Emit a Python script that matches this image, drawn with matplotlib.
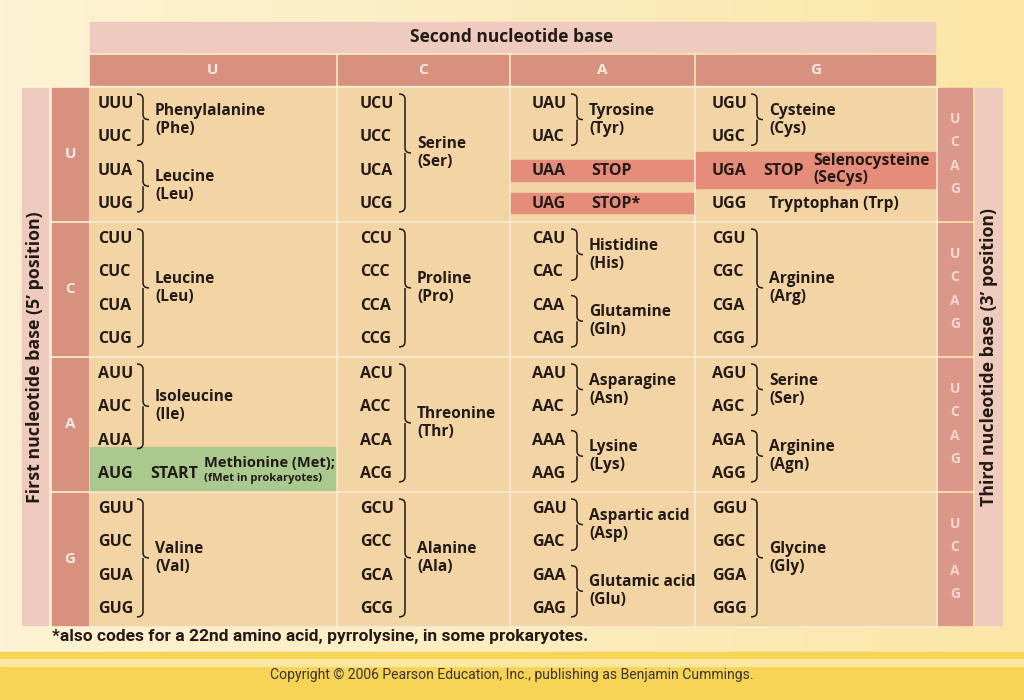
import matplotlib
matplotlib.use("Agg")
import matplotlib.pyplot as plt
import numpy as np
from matplotlib.patches import Rectangle, PathPatch
from matplotlib.path import Path

bases = ["U", "C", "A", "G"]

# codon groups that share an amino acid: (first codon, count, name, abbreviation)
amino_groups = [
    ("UUU", 2, "Phenylalanine", "(Phe)"),
    ("UUA", 2, "Leucine", "(Leu)"),
    ("UCU", 4, "Serine", "(Ser)"),
    ("UAU", 2, "Tyrosine", "(Tyr)"),
    ("UGU", 2, "Cysteine", "(Cys)"),
    ("CUU", 4, "Leucine", "(Leu)"),
    ("CCU", 4, "Proline", "(Pro)"),
    ("CAU", 2, "Histidine", "(His)"),
    ("CAA", 2, "Glutamine", "(Gln)"),
    ("CGU", 4, "Arginine", "(Arg)"),
    ("AUU", 3, "Isoleucine", "(Ile)"),
    ("ACU", 4, "Threonine", "(Thr)"),
    ("AAU", 2, "Asparagine", "(Asn)"),
    ("AAA", 2, "Lysine", "(Lys)"),
    ("AGU", 2, "Serine", "(Ser)"),
    ("AGA", 2, "Arginine", "(Agn)"),
    ("GUU", 4, "Valine", "(Val)"),
    ("GCU", 4, "Alanine", "(Ala)"),
    ("GAU", 2, "Aspartic acid", "(Asp)"),
    ("GAA", 2, "Glutamic acid", "(Glu)"),
    ("GGU", 4, "Glycine", "(Gly)"),
]

stop_codons = ["UAA", "UAG", "UGA"]
stop_labels = ["STOP", "STOP*", "STOP"]
secys_label = ["Selenocysteine", "(SeCys)"]
trp_codon, trp_label = "UGG", "Tryptophan (Trp)"
start_codon, start_label = "AUG", "START"
met_label = ["Methionine (Met);", "(fMet in prokaryotes)"]

title_top = "Second nucleotide base"
title_left = "First nucleotide base (5\u2019 position)"
title_right = "Third nucleotide base (3\u2019 position)"
footnote = "*also codes for a 22nd amino acid, pyrrolysine, in some prokaryotes."
copyright_text = "Copyright \u00a9 2006 Pearson Education, Inc., publishing as Benjamin Cummings."

# layout (pixels)
col_x0 = [90, 338, 511, 696]
col_x1 = [335, 508, 693, 935]
codon_x = [98, 360, 532, 712]
row_top = 88
row_h = 135
line_h = 33.3

PINK = "#EECBBE"
SALMON = "#D8917F"
CELL = "#F2D4A5"
GAP = "#F9EBD2"
STOPC = "#E58C7A"
GREEN = "#A9C98F"
INK = "#231A14"
FONT = ["Open Sans", "DejaVu Sans"]
NARROW = ["Roboto", "DejaVu Sans"]
FS = 11.2

fig = plt.figure(figsize=(10.24, 7.0), dpi=100)
ax = fig.add_axes([0, 0, 1, 1])
ax.set_xlim(0, 1024)
ax.set_ylim(700, 0)
ax.axis("off")

# background gradient
grad = np.linspace(0, 1, 256)[None, :]
bg = matplotlib.colors.LinearSegmentedColormap.from_list("bg", ["#FDF2D3", "#FCEDC0", "#FBE6A6"])
ax.imshow(grad, cmap=bg, extent=(0, 1024, 652, 0), aspect="auto", zorder=0)
ax.add_patch(Rectangle((0, 652), 1024, 48, color="#F7D455", zorder=1))
ax.add_patch(Rectangle((0, 659), 1024, 7, color="#FBE6A0", zorder=1))


def codon_y(r, k):
    return row_top + 16 + r * row_h + k * line_h


def draw_brace(x, y0, y1, w=12, r=5):
    ym = (y0 + y1) / 2
    xm = x + w / 2
    verts = [(x, y0), (xm, y0), (xm, y0 + r), (xm, ym - r), (xm, ym), (x + w, ym),
             (xm, ym), (xm, ym + r), (xm, y1 - r), (xm, y1), (x, y1)]
    codes = [Path.MOVETO, Path.CURVE3, Path.CURVE3, Path.LINETO, Path.CURVE3, Path.CURVE3,
             Path.MOVETO, Path.CURVE3, Path.LINETO, Path.CURVE3, Path.CURVE3]
    ax.add_patch(PathPatch(Path(verts, codes), fill=False, lw=1.1, ec=INK, zorder=5))


def label(x, y, s, size=FS, **kw):
    ax.text(x, y, s, ha=kw.pop("ha", "left"), va="center", fontsize=size, fontweight="bold",
            family=kw.pop("family", FONT), color=kw.pop("color", INK), zorder=6, **kw)


# header bars
ax.add_patch(Rectangle((90, 22), 845, 30, color=PINK, zorder=2))
label(512, 37, title_top, size=12.5, ha="center")
for c, b in enumerate(bases):
    ax.add_patch(Rectangle((col_x0[c], 55), col_x1[c] - col_x0[c], 30, color=SALMON, zorder=2))
    label((col_x0[c] + col_x1[c]) / 2, 70, b, size=11, ha="center", color="#FBEAE4")

# side bars
ax.add_patch(Rectangle((22, 88), 26, 537, color=PINK, zorder=2))
ax.add_patch(Rectangle((975, 88), 27, 537, color=PINK, zorder=2))
label(35, 357, title_left, size=12.8, ha="center", rotation=90)
label(989, 357, title_right, size=12.8, ha="center", rotation=90)

ax.add_patch(Rectangle((88, 86), 849, 541, color=GAP, zorder=2))
for r, b in enumerate(bases):
    top = row_top + r * row_h
    mid = top + 66
    ax.add_patch(Rectangle((52, top), 36, 132, color=SALMON, zorder=2))
    label(70, mid, b, size=11, ha="center", color="#FBEAE4")
    ax.add_patch(Rectangle((938, top), 34, 132, color="#DA978A", zorder=2))
    for k, b3 in enumerate(bases):
        label(955, mid + (k - 1.5) * 23.5, b3, size=10, ha="center", color="#F6D9CF")
    for c in range(4):
        ax.add_patch(Rectangle((col_x0[c], top), col_x1[c] - col_x0[c], 132, color=CELL, zorder=3))

# highlighted rows
ax.add_patch(Rectangle((511, 160), 182, 21, color=STOPC, zorder=4))
ax.add_patch(Rectangle((511, 193), 182, 20, color=STOPC, zorder=4))
ax.add_patch(Rectangle((696, 152), 239, 36, color=STOPC, zorder=4))
ax.add_patch(Rectangle((90, 447), 245, 43, color=GREEN, zorder=4))

# codons
for r, b1 in enumerate(bases):
    for c, b2 in enumerate(bases):
        for k, b3 in enumerate(bases):
            label(codon_x[c], codon_y(r, k), b1 + b2 + b3, size=11.5)

# amino acid groups with braces
for codon, n, name, abbr in amino_groups:
    r, c, k = (bases.index(ch) for ch in codon)
    y0 = codon_y(r, k) - 10
    y1 = codon_y(r, k + n - 1) + 8
    draw_brace(codon_x[c] + 39, y0, y1)
    mid = (y0 + y1) / 2
    label(codon_x[c] + 57, mid - 9, name)
    label(codon_x[c] + 57, mid + 9, abbr)

# stop / start / single codons
for codon, text in zip(stop_codons, stop_labels):
    r, c, k = (bases.index(ch) for ch in codon)
    dx = 59 if c == 2 else 51
    label(codon_x[c] + dx, codon_y(r, k), text, size=11.5)
label(813, 161, secys_label[0])
label(813, 178, secys_label[1])
r, c, k = (bases.index(ch) for ch in trp_codon)
label(codon_x[c] + 57, codon_y(r, k), trp_label)
r, c, k = (bases.index(ch) for ch in start_codon)
label(codon_x[c] + 52, codon_y(r, k), start_label, size=11.5)
label(204, 463, met_label[0], size=10.5)
label(204, 479, met_label[1], size=8)

label(52, 637, footnote, size=12.5, family=NARROW)
ax.text(512, 675, copyright_text, ha="center", va="center", fontsize=10.1,
        family=NARROW, color="#3A3530", zorder=6)

fig.savefig("out.png", dpi=100)
